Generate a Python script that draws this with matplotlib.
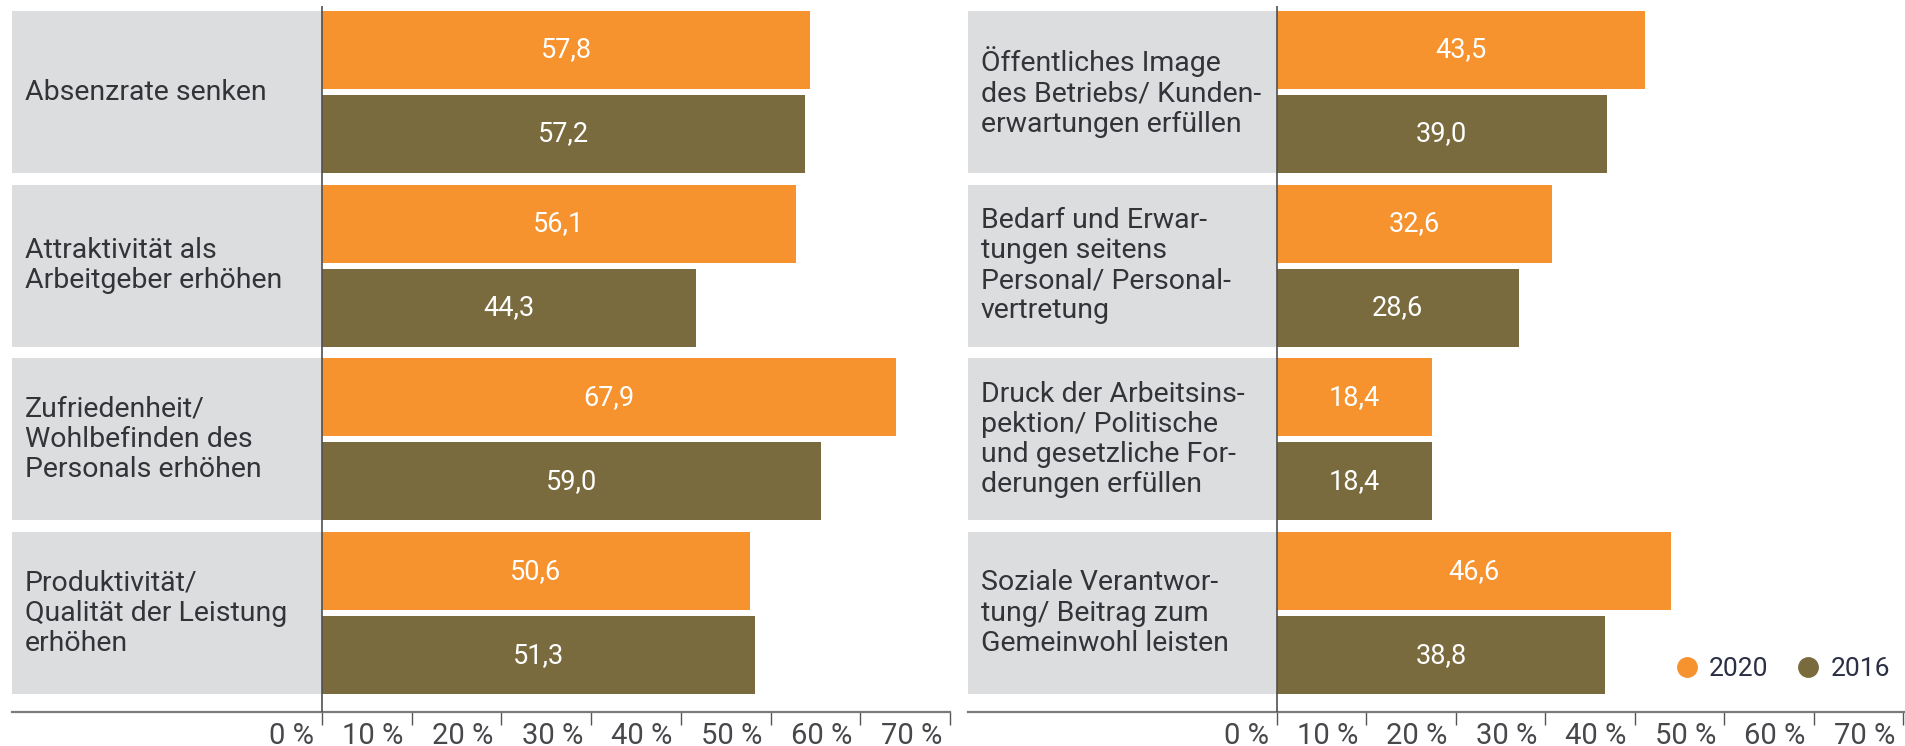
import matplotlib
matplotlib.use("Agg")
import matplotlib.pyplot as plt
from matplotlib.lines import Line2D
from matplotlib.transforms import ScaledTranslation

# ---------------- data ----------------
categories_left = [
    "Absenzrate senken",
    "Attraktivität als\nArbeitgeber erhöhen",
    "Zufriedenheit/\nWohlbefinden des\nPersonals erhöhen",
    "Produktivität/\nQualität der Leistung\nerhöhen",
]
values_2020_left = [57.8, 56.1, 67.9, 50.6]
values_2016_left = [57.2, 44.3, 59.0, 51.3]

categories_right = [
    "Öffentliches Image\ndes Betriebs/ Kunden-\nerwartungen erfüllen",
    "Bedarf und Erwar-\ntungen seitens\nPersonal/ Personal-\nvertretung",
    "Druck der Arbeitsins-\npektion/ Politische\nund gesetzliche For-\nderungen erfüllen",
    "Soziale Verantwor-\ntung/ Beitrag zum\nGemeinwohl leisten",
]
values_2020_right = [43.5, 32.6, 18.4, 46.6]
values_2016_right = [39.0, 28.6, 18.4, 38.8]

series_names = ["2020", "2016"]
tick_values = [0, 10, 20, 30, 40, 50, 60, 70]
tick_labels = ["0 %", "10 %", "20 %", "30 %", "40 %", "50 %", "60 %", "70 %"]

# ---------------- style ----------------
ORANGE = "#F7932F"
OLIVE = "#7A6B3F"
GREY = "#DCDDDF"
TEXT = "#333338"
TICKTXT = "#48484c"
FONT = ["Roboto", "DejaVu Sans"]
plt.rcParams["font.family"] = FONT

W, H = 1905, 746
fig = plt.figure(figsize=(W / 100, H / 100), dpi=100)

PX_PER_UNIT = 8.45          # bar scale (px per %)
PERIOD = 173.7              # px per group
GROUP_H = 162 / PERIOD
BAR_H = 78 / PERIOD
OFF = 42 / PERIOD
AX_TOP_PX = 6
AX_BOT_PX = 712
FIRST_CENTER_PX = 92


def fmt(v):
    return f"{v:.1f}".replace(".", ",")


def panel(left_px, zero_px, right_px, tick_px_per_unit, cats, v20, v16):
    ax = fig.add_axes([left_px / W, (H - AX_BOT_PX) / H,
                       (right_px - left_px) / W, (AX_BOT_PX - AX_TOP_PX) / H])
    xlo = -(zero_px - left_px) / PX_PER_UNIT
    xhi = (right_px - zero_px) / PX_PER_UNIT
    ax.set_xlim(xlo, xhi)
    top = -(FIRST_CENTER_PX - AX_TOP_PX) / PERIOD
    bot = (AX_BOT_PX - FIRST_CENTER_PX) / PERIOD
    ax.set_ylim(bot, top)

    ys = list(range(len(cats)))
    # grey label panels
    ax.barh(ys, [-xlo] * len(ys), left=xlo, height=GROUP_H, color=GREY, zorder=1)
    # bars
    y20 = [y - OFF for y in ys]
    y16 = [y + OFF for y in ys]
    ax.barh(y20, v20, height=BAR_H, color=ORANGE, zorder=2)
    ax.barh(y16, v16, height=BAR_H, color=OLIVE, zorder=2)
    for y, v in zip(y20, v20):
        ax.text(v / 2, y, fmt(v), color="white", ha="center", va="center",
                fontsize=19.5, zorder=3)
    for y, v in zip(y16, v16):
        ax.text(v / 2, y, fmt(v), color="white", ha="center", va="center",
                fontsize=19.5, zorder=3)
    for y, c in zip(ys, cats):
        ax.annotate(c, xy=(0, y), xycoords=("axes fraction", "data"),
                    xytext=(13, 0), textcoords="offset pixels",
                    ha="left", va="center", fontsize=20.5, color=TEXT,
                    linespacing=1.15, zorder=3)

    # zero line
    ax.axvline(0, color="#505050", lw=1.2, zorder=4)

    for s in ["top", "right", "left"]:
        ax.spines[s].set_visible(False)
    ax.spines["bottom"].set_color("#7a7a7a")
    ax.spines["bottom"].set_linewidth(1.6)
    ax.set_yticks([])
    ax.set_xticks([])

    ratio = PX_PER_UNIT / tick_px_per_unit
    sec = ax.secondary_xaxis("bottom", functions=(lambda x: x * ratio,
                                                  lambda x: x / ratio))
    sec.spines["bottom"].set_visible(False)
    sec.set_xticks(tick_values)
    sec.set_xticklabels(tick_labels, ha="right", fontsize=21, color=TICKTXT)
    sec.tick_params(axis="x", direction="out", length=9.4, width=1.0,
                    color="#555555", pad=-2.5)
    off = ScaledTranslation(-8 / 100, 0, fig.dpi_scale_trans)
    for lbl in sec.get_xticklabels():
        lbl.set_transform(lbl.get_transform() + off)
    return ax


axL = panel(12, 322, 950, 8.971, categories_left, values_2020_left, values_2016_left)
axR = panel(968, 1277, 1905, 8.943, categories_right, values_2020_right, values_2016_right)

handles = [Line2D([], [], marker="o", linestyle="none", markersize=14,
                  markerfacecolor=ORANGE, markeredgecolor=ORANGE),
           Line2D([], [], marker="o", linestyle="none", markersize=14,
                  markerfacecolor=OLIVE, markeredgecolor=OLIVE)]
leg = fig.legend(handles, series_names, loc="center right",
                 bbox_to_anchor=(1890 / W, 1 - 669 / H), ncol=2, frameon=False,
                 fontsize=19, handlelength=0.8, handletextpad=0.45,
                 columnspacing=1.1, borderpad=0, borderaxespad=0)
for t in leg.get_texts():
    t.set_color("#2b2f45")

fig.savefig("out.png", dpi=100)
